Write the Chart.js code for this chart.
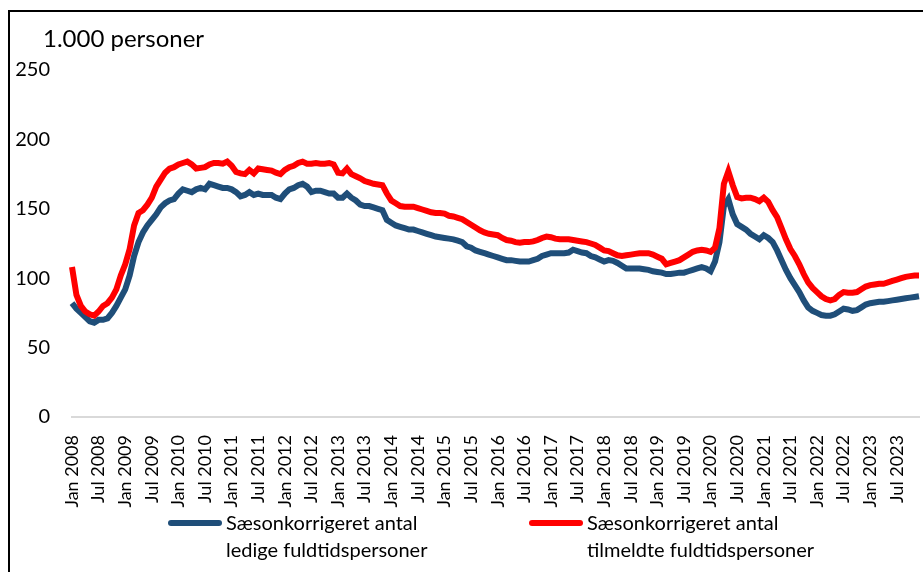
<!DOCTYPE html>
<html>
<head>
<meta charset="utf-8">
<script src="https://cdn.jsdelivr.net/npm/chart.js@4.4.0/dist/chart.umd.min.js"></script>
<style>
  html, body { margin: 0; padding: 0; background: #fff; }
  body { width: 923px; height: 572px; position: relative; overflow: hidden; font-family: Lato, sans-serif; color: #000; }
  #frame { position: absolute; left: 8px; top: 10px; width: 940px; height: 600px; border: 2px solid #000; }
  #wrap { position: absolute; left: 0; top: 0; width: 923px; height: 572px; }
  #ytitle { position: absolute; left: 43px; top: 23px; font-size: 24px; line-height: 30px; }
  .leg { position: absolute; font-size: 20px; line-height: 27px; white-space: nowrap; }
  .leg i { position: absolute; left: -58px; top: 11px; width: 54px; height: 6px; border-radius: 3px; }
</style>
</head>
<body>
<div id="frame"></div>
<div id="wrap"><canvas id="chart"></canvas></div>
<div id="ytitle">1.000 personer</div>
<div id="legend"></div>

<script>
// Ledighed, sæsonkorrigeret, jan 2008 - dec 2023 (1.000 personer)

const monthNames = ['Jan', 'Feb', 'Mar', 'Apr', 'Maj', 'Jun', 'Jul', 'Aug', 'Sep', 'Okt', 'Nov', 'Dec'];
const years = [2008, 2009, 2010, 2011, 2012, 2013, 2014, 2015, 2016, 2017, 2018, 2019, 2020, 2021, 2022, 2023];

const ledige = [
  82, 78, 75, 72, 69, 68, 70, 70, 71, 75, 80, 86,
  92, 102, 116, 126, 133, 138, 142, 146, 151, 154, 156, 157,
  161, 164, 163, 162, 164, 165, 164, 168, 167, 166, 165, 165,
  164, 162, 159, 160, 162, 160, 161, 160, 160, 160, 158, 157,
  161, 164, 165, 167, 168, 166, 162, 163, 163, 162, 161, 161,
  158, 158, 161, 158, 156, 153, 152, 152, 151, 150, 149, 142,
  140, 138, 137, 136, 135, 135, 134, 133, 132, 131, 130, 129.5,
  129, 128.5, 128, 127, 126, 123, 122, 120, 119, 118, 117, 116,
  115, 114, 113, 113, 112.5, 112, 112, 112, 113, 114, 116, 117,
  118, 118, 118, 118, 118.5, 120.5, 119.5, 118.5, 118, 116, 115, 113.5,
  112, 113, 112.5, 111, 109, 107, 107, 107, 107, 106.5, 106, 105,
  104.5, 104, 103, 103, 103.5, 104, 104, 105, 106, 107, 108, 107,
  105, 112, 126, 152, 157, 146, 139, 137, 135, 132, 130, 128,
  131, 129, 126, 120, 113, 106, 100, 95, 90, 84, 79, 76.5,
  75, 73.5, 73, 73, 74, 76, 78, 77.5, 76.5, 77, 79, 81,
  82, 82.5, 83, 83, 83.5, 84, 84.5, 85, 85.5, 86, 86.5, 87
];

const tilmeldte = [
  108, 88, 80, 76, 74, 73, 76, 80, 82, 86, 92, 102,
  110, 121, 138, 147, 149, 153, 158, 166, 171, 176, 179, 180,
  182, 183, 184, 182, 179, 179.5, 180, 182, 183, 183, 182.5, 184,
  181, 176.5, 175.5, 175, 178, 175.5, 179, 178.5, 178, 177.5, 176, 175,
  178, 180, 181, 183, 184, 182.5, 182.5, 183, 182.5, 182.5, 183, 182,
  176, 175.5, 179, 175, 173.5, 172, 170, 169, 168, 167.5, 167, 161,
  156, 154, 152, 151.5, 151.5, 151.5, 150.5, 149.5, 148.5, 147.5, 147, 147,
  146.5, 145, 144.5, 143.5, 142.5, 140.5, 138.5, 136.5, 134.5, 133, 132, 131.5,
  131, 129, 127.5, 127, 126, 125.5, 126, 126, 126.5, 127.5, 129, 130,
  129.5, 128.5, 128, 128, 128, 127.5, 127, 126.5, 126, 125, 124, 122,
  120, 119.5, 118, 116.5, 116, 116.5, 117, 117.5, 118, 118, 118, 117,
  115.5, 114, 110, 111, 112, 113, 115, 117, 119, 120, 120.5, 120,
  119, 122, 136, 168, 177, 167, 158.5, 157.5, 158, 158, 157, 155.5,
  158, 155, 149, 144, 136, 128, 121, 116, 110, 103, 97, 93,
  90, 87, 85, 84, 85, 88, 90, 89.5, 89.5, 90, 92, 94,
  95, 95.5, 96, 96, 97, 98, 99, 100, 101, 101.5, 102, 102
];

const labels = [];
years.forEach(y => monthNames.forEach(m => labels.push(m + ' ' + y)));

const series = [
  { label: ['Sæsonkorrigeret antal', 'ledige fuldtidspersoner'], data: ledige, color: '#1F4E79', order: 1, left: 226 },
  { label: ['Sæsonkorrigeret antal', 'tilmeldte fuldtidspersoner'], data: tilmeldte, color: '#FF0000', order: 0, left: 587 },
];

const chart = new Chart(document.getElementById('chart'), {
  type: 'line',
  data: {
    labels,
    datasets: series.map(s => ({
      label: s.label.join(' '),
      data: s.data,
      borderColor: s.color,
      backgroundColor: s.color,
      borderWidth: 6,
      pointRadius: 0,
      tension: 0,
      order: s.order,
    })),
  },
  options: {
    responsive: true,
    maintainAspectRatio: false,
    animation: false,
    layout: { padding: { left: 10, right: 4, top: 70, bottom: 0 } },
    plugins: { legend: { display: false }, tooltip: { enabled: false } },
    scales: {
      x: {
        grid: { display: false },
        border: { display: true, color: '#d9d9d9', width: 2 },
        ticks: {
          autoSkip: false,
          maxRotation: 90,
          minRotation: 90,
          padding: 10,
          color: '#000',
          font: { family: 'Lato', size: 18 },
          callback: (v, i) => (i % 6 === 0 ? labels[i] : null),
        },
        // fast højde, og ingen ekstra luft til sidste label
        afterFit: s => { s.height = 155; s.paddingRight = 0; s.paddingLeft = 0; },
      },
      y: {
        min: 0,
        max: 250,
        grid: { display: false, drawTicks: false },
        border: { display: false },
        ticks: { stepSize: 50, padding: 22, color: '#000', font: { family: 'Lato', size: 20 } },
        afterFit: s => { s.width = 62; },
      },
    },
  },
});

// legende under grafen
const leg = document.getElementById('legend');
series.forEach(s => {
  const d = document.createElement('div');
  d.className = 'leg';
  d.style.left = s.left + 'px';
  d.style.top = '509px';
  d.innerHTML = '<i style="background:' + s.color + '"></i>' + s.label.join('<br>');
  leg.appendChild(d);
});
</script>
</body>
</html>
